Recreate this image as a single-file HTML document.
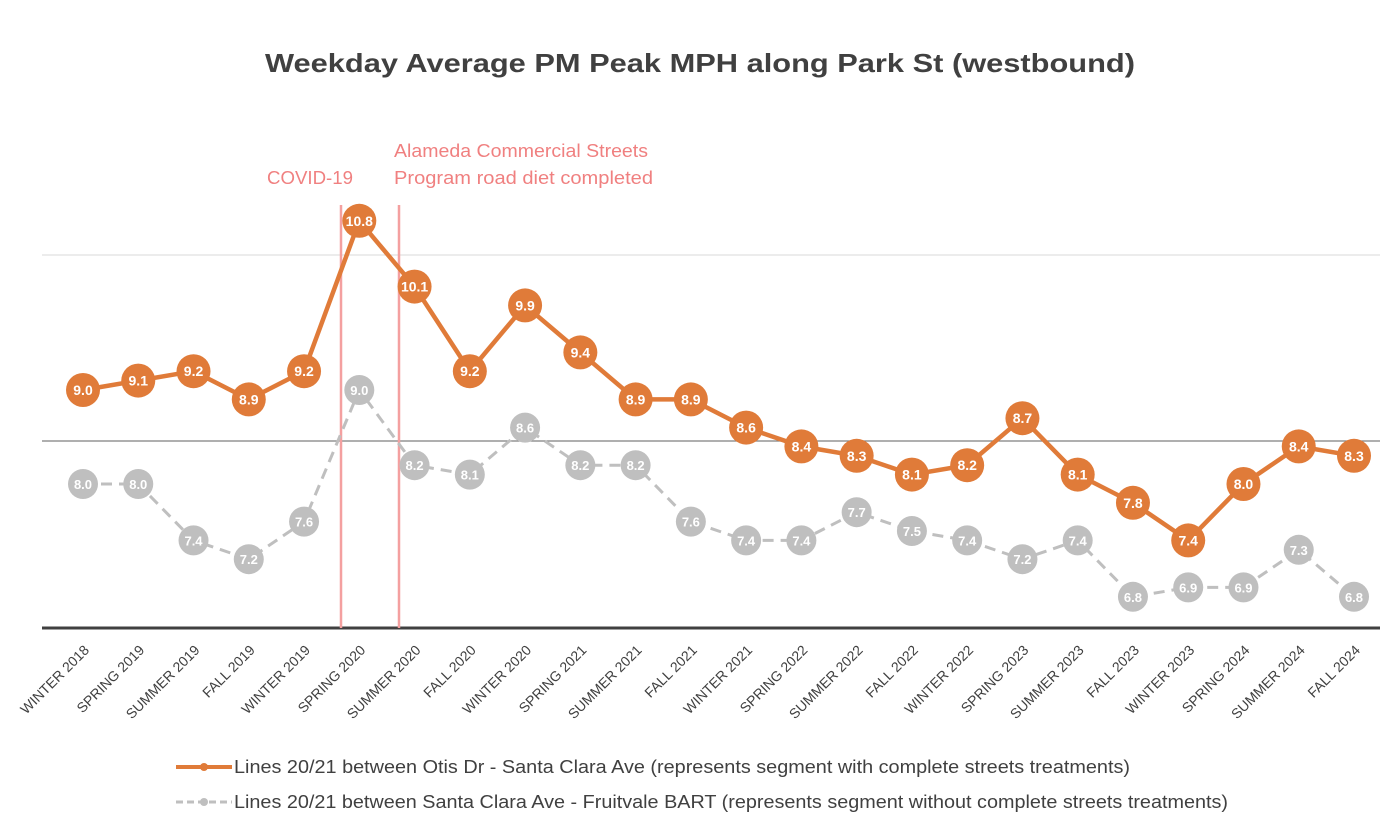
<!DOCTYPE html>
<html><head><meta charset="utf-8"><style>
body{margin:0;background:#fff;}
svg text{font-family:"Liberation Sans",sans-serif;}
</style></head><body>
<svg id="chart" width="1394" height="834" xmlns="http://www.w3.org/2000/svg">
<text x="265" y="72" textLength="870" lengthAdjust="spacingAndGlyphs" font-size="26" font-weight="bold" fill="#404040">Weekday Average PM Peak MPH along Park St (westbound)</text>
<line x1="42" y1="255" x2="1380" y2="255" stroke="#d9d9d9" stroke-width="1"/>
<line x1="42" y1="441" x2="1380" y2="441" stroke="#7f7f7f" stroke-width="1.2"/>
<line x1="42" y1="628" x2="1380" y2="628" stroke="#404040" stroke-width="3"/>
<line x1="341" y1="205" x2="341" y2="628" stroke="#f4a0a0" stroke-width="2.5"/>
<line x1="399" y1="205" x2="399" y2="628" stroke="#f4a0a0" stroke-width="2.5"/>
<text x="267" y="184" textLength="86" lengthAdjust="spacingAndGlyphs" font-size="18" fill="#f08080">COVID-19</text>
<text x="394" y="157" textLength="254" lengthAdjust="spacingAndGlyphs" font-size="18" fill="#f08080">Alameda Commercial Streets</text>
<text x="394" y="184" textLength="259" lengthAdjust="spacingAndGlyphs" font-size="18" fill="#f08080">Program road diet completed</text>
<g id="greyg"></g><g id="orangeg"></g><g id="xlabels"></g>
<g>
<line x1="176" y1="767" x2="232" y2="767" stroke="#e07b39" stroke-width="4"/>
<circle cx="204" cy="767" r="4" fill="#e07b39"/>
<text x="234" y="773" textLength="896" lengthAdjust="spacingAndGlyphs" font-size="18" fill="#404040">Lines 20/21 between Otis Dr - Santa Clara Ave (represents segment with complete streets treatments)</text>
<line x1="176" y1="802" x2="232" y2="802" stroke="#bfbfbf" stroke-width="3" stroke-dasharray="7,4"/>
<circle cx="204" cy="802" r="4" fill="#bfbfbf"/>
<text x="234" y="808" textLength="994" lengthAdjust="spacingAndGlyphs" font-size="18" fill="#404040">Lines 20/21 between Santa Clara Ave - Fruitvale BART (represents segment without complete streets treatments)</text>
</g>
</svg>
<script>
const categories=["WINTER 2018","SPRING 2019","SUMMER 2019","FALL 2019","WINTER 2019","SPRING 2020","SUMMER 2020","FALL 2020","WINTER 2020","SPRING 2021","SUMMER 2021","FALL 2021","WINTER 2021","SPRING 2022","SUMMER 2022","FALL 2022","WINTER 2022","SPRING 2023","SUMMER 2023","FALL 2023","WINTER 2023","SPRING 2024","SUMMER 2024","FALL 2024"];
const otisValues=[9.0,9.1,9.2,8.9,9.2,10.8,10.1,9.2,9.9,9.4,8.9,8.9,8.6,8.4,8.3,8.1,8.2,8.7,8.1,7.8,7.4,8.0,8.4,8.3];
const fruitvaleValues=[8.0,8.0,7.4,7.2,7.6,9.0,8.2,8.1,8.6,8.2,8.2,7.6,7.4,7.4,7.7,7.5,7.4,7.2,7.4,6.8,6.9,6.9,7.3,6.8];
const NS="http://www.w3.org/2000/svg";
const xScale=i=>83+i*(1354-83)/(categories.length-1);
const yScale=v=>484-(v-8)*94;
function mk(tag,attrs,parent){const e=document.createElementNS(NS,tag);for(const k in attrs)e.setAttribute(k,attrs[k]);parent.appendChild(e);return e;}
function series(vals,g,color,dash,r,textColor,name){
  const pts=vals.map((v,i)=>xScale(i)+","+yScale(v)).join(" ");
  const pl=mk("polyline",{points:pts,fill:"none",stroke:color,"stroke-width":dash?3:4.5,"stroke-dasharray":dash?"11,7":"none"},g);
  
  
  vals.forEach((v,i)=>{
    const c=mk("circle",{cx:xScale(i),cy:yScale(v),r:r,fill:color},g);
    
    
    const t=mk("text",{x:xScale(i),y:yScale(v)+5,"text-anchor":"middle","font-size":dash?13:14,"font-weight":"bold",fill:textColor},g);
    t.textContent=v.toFixed(1);
    
    
  });
}
series(fruitvaleValues,document.getElementById("greyg"),"#bfbfbf",true,15,"#ffffff","fruitvale");
series(otisValues,document.getElementById("orangeg"),"#e07b39",false,17,"#ffffff","otis");
const xl=document.getElementById("xlabels");
categories.forEach((c,i)=>{
  const x=xScale(i)+7,y=651;
  const t=mk("text",{x:x,y:y,"text-anchor":"end","font-size":14,fill:"#404040",transform:`rotate(-45 ${x} ${y})`},xl);
  t.textContent=c;
  
  
});
</script>
</body></html>
